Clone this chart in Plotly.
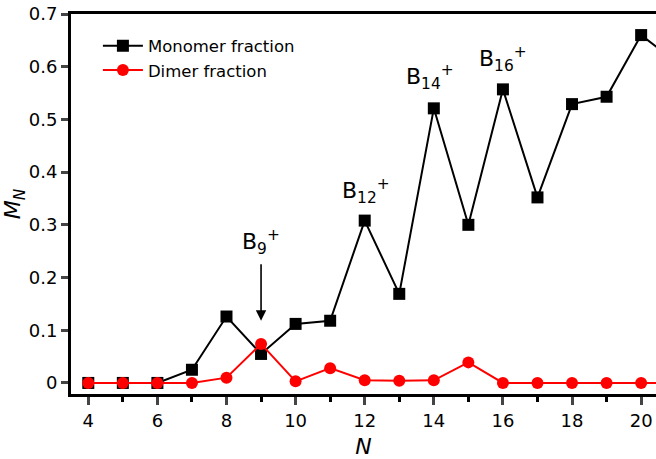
import plotly.graph_objects as go

N = [4, 5, 6, 7, 8, 9, 10, 11, 12, 13, 14, 15, 16, 17, 18, 19, 20, 21]
monomer = [0, 0, 0, 0.025, 0.126, 0.055, 0.112, 0.118, 0.308, 0.169, 0.521,
           0.300, 0.557, 0.352, 0.529, 0.543, 0.660, 0.610]
dimer = [0, 0, 0, 0, 0.010, 0.074, 0.003, 0.028, 0.005, 0.004, 0.005,
         0.039, 0, 0, 0, 0, 0, 0]
x_ticks = [4, 6, 8, 10, 12, 14, 16, 18, 20]
y_ticks = [0, 0.1, 0.2, 0.3, 0.4, 0.5, 0.6, 0.7]
y_tick_labels = ["0", "0.1", "0.2", "0.3", "0.4", "0.5", "0.6", "0.7"]

FONT = "DejaVu Sans"

fig = go.Figure()
fig.add_trace(go.Scatter(x=N, y=monomer, mode="lines+markers", name="Monomer fraction",
                         line=dict(color="black", width=2),
                         marker=dict(symbol="square", size=12, color="black"),
                         cliponaxis=True))
fig.add_trace(go.Scatter(x=N, y=dimer, mode="lines+markers", name="Dimer fraction",
                         line=dict(color="#ff0000", width=2),
                         marker=dict(symbol="circle", size=12, color="#ff0000"),
                         cliponaxis=True))

ann_font = dict(family=FONT, size=22, color="black")
fig.add_annotation(x=9, y=0.268, text="B<sub>9</sub><sup>+</sup>", showarrow=False, font=ann_font)
fig.add_annotation(x=12.05, y=0.365, text="B<sub>12</sub><sup>+</sup>", showarrow=False, font=ann_font)
fig.add_annotation(x=13.9, y=0.58, text="B<sub>14</sub><sup>+</sup>", showarrow=False, font=ann_font)
fig.add_annotation(x=16.0, y=0.615, text="B<sub>16</sub><sup>+</sup>", showarrow=False, font=ann_font)
fig.add_annotation(x=9, y=0.118, ax=9, ay=0.228, axref="x", ayref="y", text="",
                   showarrow=True, arrowhead=2, arrowsize=1.3, arrowwidth=1.6, arrowcolor="black")

fig.update_layout(
    width=656, height=459,
    margin=dict(l=71, r=0, t=14, b=65),
    paper_bgcolor="white", plot_bgcolor="white",
    font=dict(family=FONT, size=18, color="black"),
    legend=dict(x=0.046, y=0.962, xanchor="left", yanchor="top",
                font=dict(family=FONT, size=16.5), bgcolor="rgba(0,0,0,0)",
                itemwidth=40, tracegroupgap=0),
    showlegend=True,
)
fig.update_xaxes(range=[3.5, 20.43], tickvals=x_ticks, ticks="outside", ticklen=8,
                 tickwidth=2.5, showline=True, linewidth=3, linecolor="black",
                 mirror=True, showgrid=False, zeroline=False, automargin=False,
                 minor=dict(tickvals=[5, 7, 9, 11, 13, 15, 17, 19], ticks="outside",
                            ticklen=5, tickwidth=2.5, tickcolor="black"),
                 title=dict(text="<i>N</i>", font=dict(family=FONT, size=22), standoff=14),
                 tickfont=dict(family=FONT, size=18))
fig.update_yaxes(range=[-0.021, 0.7], tickvals=y_ticks, ticktext=y_tick_labels,
                 ticks="outside", ticklen=7, tickwidth=2.5, showline=True, linewidth=3,
                 linecolor="black", showgrid=False, zeroline=False, automargin=False,
                 title=dict(text="<i>M<sub>N</sub></i>", font=dict(family=FONT, size=22), standoff=8),
                 tickfont=dict(family=FONT, size=18))

fig.write_html("out.html", config={"displayModeBar": False},
               post_script="document.body.style.margin='0px';")
